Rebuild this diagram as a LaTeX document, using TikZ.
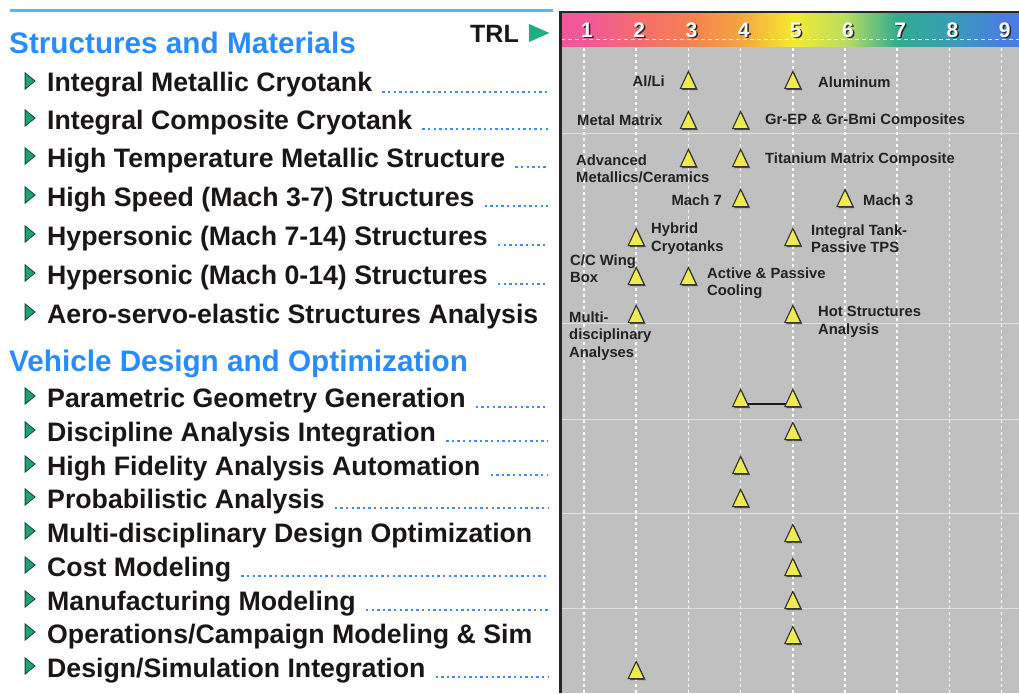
\documentclass[tikz,border=0pt]{standalone}
\usepackage{fontspec}
\setmainfont{Liberation Sans}
\usetikzlibrary{shapes.geometric,shadows,backgrounds}
\definecolor{hblue}{RGB}{40,140,255}
\definecolor{lblue}{RGB}{60,140,255}
\definecolor{topblue}{RGB}{80,185,255}
\definecolor{itemc}{RGB}{26,22,22}
\definecolor{labc}{RGB}{34,34,34}
\definecolor{bulletc}{RGB}{30,160,120}
\definecolor{trlg}{RGB}{32,176,128}
\definecolor{mky}{RGB}{240,236,80}
\definecolor{greyc}{RGB}{192,192,192}
\definecolor{t1}{RGB}{240,88,154}
\definecolor{t2}{RGB}{245,108,112}
\definecolor{t3}{RGB}{245,128,80}
\definecolor{t4}{RGB}{245,165,64}
\definecolor{t5}{RGB}{245,234,48}
\definecolor{t6}{RGB}{186,222,96}
\definecolor{t7}{RGB}{48,172,144}
\definecolor{t8}{RGB}{56,158,180}
\definecolor{t9}{RGB}{72,126,226}
\begin{document}
\begin{tikzpicture}[x=1pt,y=-1pt,
  item/.style={anchor=base west, inner sep=0, font=\fontsize{26.7}{30}\selectfont\bfseries, text=itemc},
  head/.style={anchor=base west, inner sep=0, font=\fontsize{29.7}{33}\selectfont\bfseries, text=hblue},
  bullet/.style={isosceles triangle, isosceles triangle apex angle=78, minimum size=10pt, inner sep=0, fill=bulletc, draw=bulletc!45!black, line width=0.8pt},
  leader/.style={draw=lblue, line width=2.5pt, dash pattern=on 2.4pt off 3.2pt},
  mk/.style={isosceles triangle, isosceles triangle apex angle=50, shape border rotate=90, minimum size=16pt, inner sep=0, yshift=-3.5pt, fill=mky, draw=black!80, line width=1.1pt, drop shadow={shadow xshift=1.5pt, shadow yshift=-1.5pt, fill=black, opacity=0.6}},
  lab/.style={inner sep=0, font=\fontsize{14.8}{17.5}\selectfont\bfseries, text=labc, align=left},
  num/.style={inner sep=0, font=\fontsize{21}{24}\selectfont\bfseries, text=white},
  numsh/.style={num, text=black!85},
  gridv/.style={white, line width=1.5pt, dash pattern=on 3pt off 3pt},
  gridh/.style={white!88!black, line width=1pt}
]
\useasboundingbox (0,0) rectangle (1019,693);
\begin{scope}[on background layer]
\fill[white] (0,0) rectangle (1019,693);
% chart area
\fill[greyc] (560,47) rectangle (1019,693);
\foreach \yy in {133,323,419,513,608} \draw[gridh] (561,\yy) -- (1019,\yy);
\foreach \i in {0,...,8} \draw[gridv] ({584+52.2*\i},48) -- ({584+52.2*\i},693);
% TRL colour bar
\fill[t1] (560,12) rectangle (584.5,47);
\shade[left color=t1, right color=t2] (584,12) rectangle (636.7,47);
\shade[left color=t2, right color=t3] (636.2,12) rectangle (688.9,47);
\shade[left color=t3, right color=t4] (688.4,12) rectangle (741.1,47);
\shade[left color=t4, right color=t5] (740.6,12) rectangle (793.3,47);
\shade[left color=t5, right color=t6] (792.8,12) rectangle (845.5,47);
\shade[left color=t6, right color=t7] (845,12) rectangle (897.7,47);
\shade[left color=t7, right color=t8] (897.2,12) rectangle (949.9,47);
\shade[left color=t8, right color=t9] (949.4,12) rectangle (1002.1,47);
\fill[t9] (1001.6,12) rectangle (1019,47);
\draw[white, line width=0.8pt, dash pattern=on 4pt off 3pt, opacity=0.8] (561,39) -- (1019,39);
\draw[black!85, line width=2pt] (560,12) -- (1019,12);
\draw[black!85, line width=3pt] (560,11) -- (560,693);
% top blue rule
\draw[topblue, line width=3pt] (10,11) -- (553,11);
\end{scope}

% TRL numbers
\foreach \n in {1,...,9} {
  \node[numsh] (ns\n) at ({584+52.2*(\n-1)+4.5},31.5) {\n};
  \node[num] (n\n) at ({584+52.2*(\n-1)+3},30) {\n};
}
\node[anchor=base east, inner sep=0, font=\fontsize{25}{28}\selectfont\bfseries, text=itemc] (trl) at (519,43) {TRL};
\node[isosceles triangle, isosceles triangle apex angle=48, minimum size=18pt, inner sep=0, fill=trlg] (trla) at (535,33) {};

% headings
\node[head] (h1) at (9,54) {Structures and Materials};
\node[head] (h2) at (9,371) {Vehicle Design and Optimization};

\coordinate (ledge) at (548,0);

% group 1
\node[bullet] (b1) at (29,81) {};  \node[item] (i1) at (47,92) {Integral Metallic Cryotank};
\node[bullet] (b2) at (29,118) {}; \node[item] (i2) at (47,129) {Integral Composite Cryotank};
\node[bullet] (b3) at (29,156) {}; \node[item] (i3) at (47,167) {High Temperature Metallic Structure};
\node[bullet] (b4) at (29,195) {}; \node[item] (i4) at (47,206) {High Speed (Mach 3-7) Structures};
\node[bullet] (b5) at (29,234) {}; \node[item] (i5) at (47,245) {Hypersonic (Mach 7-14) Structures};
\node[bullet] (b6) at (29,273) {}; \node[item] (i6) at (47,284) {Hypersonic (Mach 0-14) Structures};
\node[bullet] (b7) at (29,312) {}; \node[item] (i7) at (47,323) {Aero-servo-elastic Structures Analysis};
% group 2
\node[bullet] (b8) at (29,396) {};  \node[item] (i8) at (47,407) {Parametric Geometry Generation};
\node[bullet] (b9) at (29,430) {};  \node[item] (i9) at (47,441) {Discipline Analysis Integration};
\node[bullet] (b10) at (29,464) {}; \node[item] (i10) at (47,475) {High Fidelity Analysis Automation};
\node[bullet] (b11) at (29,497) {}; \node[item] (i11) at (47,508) {Probabilistic Analysis};
\node[bullet] (b12) at (29,531) {}; \node[item] (i12) at (47,542) {Multi-disciplinary Design Optimization};
\node[bullet] (b13) at (29,565) {}; \node[item] (i13) at (47,576) {Cost Modeling};
\node[bullet] (b14) at (29,599) {}; \node[item] (i14) at (47,610) {Manufacturing Modeling};
\node[bullet] (b15) at (29,632) {}; \node[item] (i15) at (47,643) {Operations/Campaign Modeling \& Sim};
\node[bullet] (b16) at (29,666) {}; \node[item] (i16) at (47,677) {Design/Simulation Integration};

% leaders
\foreach \k in {1,2,3,4,5,6,8,9,10,11,13,14,16}
  \draw[leader] ([xshift=10pt]i\k.base east) -- (i\k.base east -| ledge);

% markers
\node[mk] (m1a) at (688.4,80) {};  \node[mk] (m1b) at (792.8,80) {};
\node[mk] (m2a) at (688.4,120) {}; \node[mk] (m2b) at (740.6,120) {};
\node[mk] (m3a) at (688.4,158) {}; \node[mk] (m3b) at (740.6,158) {};
\node[mk] (m4a) at (740.6,198) {}; \node[mk] (m4b) at (845,198) {};
\node[mk] (m5a) at (636.2,237) {}; \node[mk] (m5b) at (792.8,237) {};
\node[mk] (m6a) at (636.2,276) {}; \node[mk] (m6b) at (688.4,276) {};
\node[mk] (m7a) at (636.2,314) {}; \node[mk] (m7b) at (792.8,314) {};
\node[mk] (m8a) at (740.6,398) {}; \node[mk] (m8b) at (792.8,398) {};
\node[mk] (m9) at (792.8,431) {};
\node[mk] (m10) at (740.6,465) {};
\node[mk] (m11) at (740.6,498) {};
\node[mk] (m12) at (792.8,533) {};
\node[mk] (m13) at (792.8,567) {};
\node[mk] (m14) at (792.8,600) {};
\node[mk] (m15) at (792.8,635) {};
\node[mk] (m16) at (636.2,670) {};

\begin{scope}[on background layer]
\draw[black!90, line width=2.5pt] ([yshift=3pt]m8a.south) -- ([yshift=3pt]m8b.south);
\end{scope}

% marker labels
\node[lab, anchor=east] (l1a) at (665,81) {Al/Li};
\node[lab, anchor=west] (l1b) at (818,82) {Aluminum};
\node[lab, anchor=west] (l2a) at (577,120) {Metal Matrix};
\node[lab, anchor=west] (l2b) at (765,121) {Gr-EP \& Gr-Bmi Composites};
\node[lab, anchor=west] (l3a) at (576,169) {Advanced\\Metallics/Ceramics};
\node[lab, anchor=west] (l3b) at (765,160) {Titanium Matrix Composite};
\node[lab, anchor=east] (l4a) at (722,200) {Mach 7};
\node[lab, anchor=west] (l4b) at (863,200) {Mach 3};
\node[lab, anchor=west] (l5a) at (651,238.5) {Hybrid\\Cryotanks};
\node[lab, anchor=west] (l5b) at (811,238.5) {Integral Tank-\\Passive TPS};
\node[lab, anchor=west] (l6a) at (570,268.5) {C/C Wing\\Box};
\node[lab, anchor=west] (l6b) at (707,283) {Active \& Passive\\Cooling};
\node[lab, anchor=west] (l7a) at (569,336) {Multi-\\disciplinary\\Analyses};
\node[lab, anchor=west] (l7b) at (818,322) {Hot Structures\\Analysis};
\end{tikzpicture}
\end{document}
